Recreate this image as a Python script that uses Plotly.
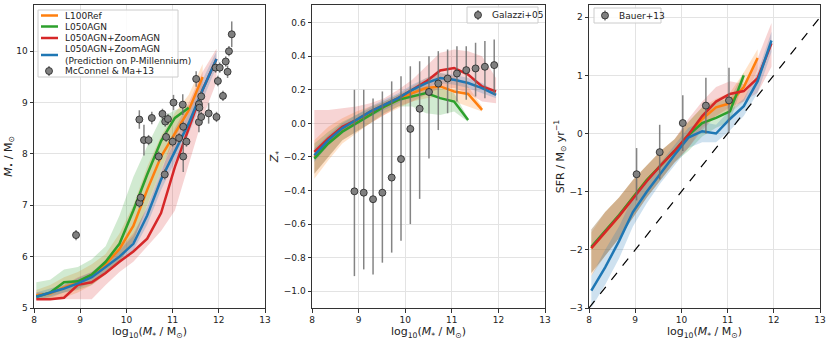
import plotly.graph_objects as go
from plotly.subplots import make_subplots

# bin centres (log10 stellar mass)
mass_bins = [8.05, 8.35, 8.65, 8.95, 9.25, 9.55, 9.85, 10.15, 10.45, 10.75, 11.05, 11.35, 11.65, 11.95]

# ---- panel 1: black hole mass
bh_ref = [5.25, 5.28, 5.4, 5.5, 5.65, 5.85, 6.15, 6.6, 7.3, 7.95, 8.4, 8.85, 9.5]
bh_ref_lo = [5.17, 5.17, 5.2, 5.3, 5.45, 5.65, 5.9, 6.3, 6.95, 7.55, 8.0, 8.5, 9.2]
bh_ref_hi = [5.35, 5.45, 5.6, 5.7, 5.85, 6.05, 6.45, 7.0, 7.75, 8.35, 8.8, 9.15, 9.75]
bh_agn = [5.22, 5.3, 5.5, 5.52, 5.65, 5.9, 6.25, 6.9, 7.6, 8.25, 8.7, 8.9]
bh_agn_lo = [5.17, 5.2, 5.3, 5.35, 5.45, 5.65, 5.9, 6.3, 7.0, 7.7, 8.3, 8.8]
bh_agn_hi = [5.5, 5.55, 5.75, 5.8, 5.95, 6.2, 6.8, 7.55, 8.15, 8.7, 8.85, 8.95]
bh_zoom = [5.17, 5.17, 5.2, 5.45, 5.5, 5.68, 5.9, 6.1, 6.35, 6.85, 7.75, 8.5, 9.25, 9.85]
bh_zoom_lo = [5.17, 5.17, 5.17, 5.17, 5.17, 5.45, 5.7, 5.9, 6.2, 6.5, 6.9, 7.8, 8.7, 9.4]
bh_zoom_hi = [5.3, 5.3, 5.45, 5.6, 5.7, 5.9, 6.15, 6.45, 6.95, 7.6, 8.5, 9.0, 9.6, 10.05]
bh_pm = [5.22, 5.3, 5.38, 5.48, 5.6, 5.8, 6.0, 6.25, 6.8, 7.5, 8.05, 8.6, 9.25, 9.85]
bh_pm_lo = [5.15, 5.22, 5.3, 5.38, 5.5, 5.68, 5.88, 6.12, 6.62, 7.3, 7.85, 8.4, 9.05, 9.7]
bh_pm_hi = [5.3, 5.38, 5.46, 5.58, 5.7, 5.92, 6.12, 6.4, 6.98, 7.7, 8.25, 8.8, 9.45, 10.0]

mcconnell_x = [8.91, 10.28, 10.28, 10.31, 10.38, 10.48, 10.55, 10.7, 10.78, 10.83, 10.84, 10.86, 10.9,
               11.0, 11.02, 11.14, 11.22, 11.23, 11.23, 11.3, 11.51, 11.57, 11.57, 11.58, 11.62, 11.62,
               11.78, 11.93, 11.95, 11.98, 12.02, 12.09, 12.15, 12.19, 12.22, 12.28]
mcconnell_y = [6.42, 8.67, 7.05, 7.15, 8.27, 8.27, 8.7, 7.95, 8.78, 7.6, 8.63, 8.33, 8.68,
               8.24, 9.0, 8.31, 8.96, 8.53, 7.95, 8.24, 9.46, 8.62, 8.97, 8.9, 9.12, 8.72,
               8.79, 9.68, 8.72, 9.42, 9.68, 9.13, 9.8, 9.6, 10.0, 10.33]
mcconnell_err = [0.1, 0.18, 0.1, 0.1, 0.3, 0.1, 0.12, 0.1, 0.1, 0.1, 0.1, 0.1, 0.1,
                 0.1, 0.15, 0.1, 0.2, 0.1, 0.3, 0.1, 0.15, 0.2, 0.1, 0.1, 0.1, 0.1,
                 0.2, 0.1, 0.1, 0.1, 0.1, 0.1, 0.1, 0.12, 0.1, 0.25]

# ---- panel 2: stellar metallicity
z_ref = [-0.2, -0.11, -0.04, 0.01, 0.06, 0.1, 0.14, 0.18, 0.21, 0.22, 0.19, 0.175, 0.08]
z_ref_lo = [-0.33, -0.22, -0.12, -0.06, 0.0, 0.05, 0.09, 0.13, 0.15, 0.16, 0.13, 0.1, 0.07]
z_ref_hi = [-0.1, -0.02, 0.03, 0.07, 0.1, 0.13, 0.17, 0.22, 0.27, 0.3, 0.28, 0.22, 0.1]
z_agn = [-0.21, -0.12, -0.05, 0.0, 0.05, 0.1, 0.14, 0.16, 0.18, 0.15, 0.13, 0.02]
z_agn_lo = [-0.3, -0.2, -0.1, -0.05, 0.0, 0.06, 0.1, 0.1, 0.06, 0.05, 0.07, 0.01]
z_agn_hi = [-0.12, -0.05, 0.01, 0.05, 0.09, 0.13, 0.17, 0.2, 0.22, 0.21, 0.18, 0.03]
z_zoom = [-0.17, -0.09, -0.02, 0.02, 0.07, 0.11, 0.15, 0.2, 0.25, 0.315, 0.33, 0.29, 0.22, 0.19]
z_zoom_lo = [-0.3, -0.2, -0.1, -0.05, 0.0, 0.05, 0.1, 0.13, 0.17, 0.21, 0.21, 0.18, 0.13, 0.12]
z_zoom_hi = [0.08, 0.08, 0.09, 0.1, 0.12, 0.15, 0.2, 0.26, 0.34, 0.42, 0.44, 0.43, 0.4, 0.27]
z_pm = [-0.19, -0.1, -0.03, 0.02, 0.07, 0.11, 0.15, 0.2, 0.24, 0.27, 0.26, 0.24, 0.21, 0.17]
z_pm_lo = [-0.23, -0.13, -0.06, -0.01, 0.04, 0.08, 0.12, 0.17, 0.21, 0.24, 0.23, 0.21, 0.18, 0.15]
z_pm_hi = [-0.15, -0.07, 0.0, 0.05, 0.1, 0.14, 0.18, 0.23, 0.27, 0.3, 0.29, 0.27, 0.24, 0.19]

gallazzi_x = [8.91, 9.11, 9.31, 9.51, 9.71, 9.91, 10.11, 10.31, 10.51, 10.71, 10.91, 11.11, 11.31, 11.51, 11.71, 11.91]
gallazzi_y = [-0.405, -0.413, -0.452, -0.413, -0.323, -0.213, -0.033, 0.087, 0.187, 0.237, 0.267, 0.297, 0.317, 0.327, 0.337, 0.347]
gallazzi_up = [0.2, 0.2, 0.148, 0.19, 0.25, 0.28, 0.34, 0.37, 0.4, 0.43, 0.44, 0.46, 0.46, 0.48, 0.49, 0.5]
gallazzi_down = [-0.91, -0.87, -0.9, -0.83, -0.77, -0.7, -0.6, -0.45, -0.21, -0.04, 0.06, 0.13, 0.14, 0.16, 0.15, 0.17]

# ---- panel 3: star formation rate
sfr_ref = [-1.97, -1.7, -1.42, -1.1, -0.8, -0.55, -0.3, -0.02, 0.25, 0.45, 0.52, 0.8, 1.3]
sfr_ref_lo = [-2.45, -2.1, -1.8, -1.45, -1.1, -0.8, -0.5, -0.25, 0.1, 0.3, 0.35, 0.55, 1.1]
sfr_ref_hi = [-1.7, -1.35, -1.1, -0.8, -0.55, -0.3, -0.1, 0.2, 0.45, 0.6, 0.7, 1.05, 1.45]
sfr_agn = [-1.95, -1.68, -1.4, -1.1, -0.8, -0.55, -0.3, -0.03, 0.18, 0.27, 0.38, 1.0]
sfr_agn_lo = [-2.4, -2.1, -1.8, -1.45, -1.1, -0.8, -0.5, -0.3, -0.05, 0.1, 0.2, 0.9]
sfr_agn_hi = [-1.65, -1.35, -1.1, -0.8, -0.55, -0.3, -0.1, 0.2, 0.45, 0.55, 0.6, 1.05]
sfr_zoom = [-1.97, -1.7, -1.42, -1.12, -0.82, -0.55, -0.3, -0.02, 0.3, 0.55, 0.68, 0.73, 0.95, 1.55]
sfr_zoom_lo = [-2.4, -2.1, -1.8, -1.45, -1.1, -0.8, -0.5, -0.25, 0.05, 0.3, 0.45, 0.55, 0.7, 1.15]
sfr_zoom_hi = [-1.65, -1.35, -1.1, -0.8, -0.55, -0.3, -0.1, 0.25, 0.55, 0.8, 0.9, 0.85, 1.3, 1.9]
sfr_pm = [-2.7, -2.3, -1.85, -1.35, -1.0, -0.68, -0.37, -0.07, 0.04, 0.0, 0.25, 0.47, 0.9, 1.6]
sfr_pm_lo = [-3.0, -2.6, -2.15, -1.6, -1.2, -0.85, -0.55, -0.25, -0.15, -0.15, 0.05, 0.3, 0.7, 1.4]
sfr_pm_hi = [-2.45, -2.0, -1.6, -1.1, -0.8, -0.5, -0.2, 0.1, 0.2, 0.15, 0.4, 0.6, 1.05, 1.75]

bauer_x = [9.03, 9.53, 10.03, 10.53, 11.03]
bauer_y = [-0.7, -0.32, 0.18, 0.48, 0.57]
bauer_err = [0.45, 0.47, 0.48, 0.48, 0.56]

one_to_one_x = [8, 13]
one_to_one_y = [-3, 2]

models = ["L100Ref", "L050AGN", "L050AGN+ZoomAGN", "L050AGN+ZoomAGN (Prediction on P-Millennium)"]
colors = ["#ff7f0e", "#2ca02c", "#d62728", "#1f77b4"]
fills = ["rgba(255,127,14,0.22)", "rgba(44,160,44,0.22)", "rgba(214,39,40,0.2)", "rgba(31,119,180,0.22)"]

panels = [
    [(bh_ref, bh_ref_lo, bh_ref_hi), (bh_agn, bh_agn_lo, bh_agn_hi),
     (bh_zoom, bh_zoom_lo, bh_zoom_hi), (bh_pm, bh_pm_lo, bh_pm_hi)],
    [(z_ref, z_ref_lo, z_ref_hi), (z_agn, z_agn_lo, z_agn_hi),
     (z_zoom, z_zoom_lo, z_zoom_hi), (z_pm, z_pm_lo, z_pm_hi)],
    [(sfr_ref, sfr_ref_lo, sfr_ref_hi), (sfr_agn, sfr_agn_lo, sfr_agn_hi),
     (sfr_zoom, sfr_zoom_lo, sfr_zoom_hi), (sfr_pm, sfr_pm_lo, sfr_pm_hi)],
]

W, H = 831, 342
ML, MR, MT, MB = 34, 11, 5, 34
PW, PH = W - ML - MR, H - MT - MB

fig = make_subplots(rows=1, cols=3)

for col, panel in enumerate(panels, start=1):
    # shaded bands first
    for i, (med, lo, hi) in enumerate(panel):
        xs = mass_bins[:len(med)]
        fig.add_trace(go.Scatter(x=xs + xs[::-1], y=hi + lo[::-1], fill="toself", fillcolor=fills[i],
                                 line=dict(width=0), hoverinfo="skip", showlegend=False), row=1, col=col)
    for i, (med, lo, hi) in enumerate(panel):
        xs = mass_bins[:len(med)]
        fig.add_trace(go.Scatter(x=xs, y=med, mode="lines", name=models[i],
                                 line=dict(color=colors[i], width=2.5), showlegend=False), row=1, col=col)

marker = dict(color="#808080", size=7, line=dict(color="#222222", width=0.8))
errc = "rgba(110,110,110,0.85)"

fig.add_trace(go.Scatter(x=mcconnell_x, y=mcconnell_y, mode="markers", name="McConnel & Ma+13",
                         marker=marker, showlegend=False,
                         error_y=dict(type="data", array=mcconnell_err, color=errc, thickness=1.5, width=0)),
              row=1, col=1)

g_plus = [u - y for u, y in zip(gallazzi_up, gallazzi_y)]
g_minus = [y - d for d, y in zip(gallazzi_down, gallazzi_y)]
fig.add_trace(go.Scatter(x=gallazzi_x, y=gallazzi_y, mode="markers", name="Galazzi+05",
                         marker=marker, showlegend=False,
                         error_y=dict(type="data", symmetric=False, array=g_plus, arrayminus=g_minus,
                                      color=errc, thickness=1.5, width=0)),
              row=1, col=2)

fig.add_trace(go.Scatter(x=one_to_one_x, y=one_to_one_y, mode="lines", showlegend=False,
                         line=dict(color="black", width=1.2, dash="dash")), row=1, col=3)
fig.add_trace(go.Scatter(x=bauer_x, y=bauer_y, mode="markers", name="Bauer+13",
                         marker=marker, showlegend=False,
                         error_y=dict(type="data", array=bauer_err, color=errc, thickness=1.5, width=0)),
              row=1, col=3)

font = "DejaVu Sans, Arial, sans-serif"
axis_common = dict(showline=True, linecolor="#333333", linewidth=1, mirror=True,
                   ticks="outside", ticklen=3.5, tickcolor="#333333", automargin=False,
                   showgrid=True, gridcolor="#e3e3e3", gridwidth=1, zeroline=False,
                   tickfont=dict(size=9, color="#222222"))
xtitle = "log<sub>10</sub>(<i>M</i><sub>*</sub> / M<sub>⊙</sub>)"


def px(x):
    return (x - ML) / PW


def py(y):
    return 1 - (y - MT) / PH


domains = [(px(34), px(265)), (px(312), px(545)), (px(589), px(820))]
for k, dom in enumerate(domains, start=1):
    fig.update_layout({f"xaxis{'' if k == 1 else k}": dict(domain=list(dom), range=[8, 13], dtick=1,
                                                            title=dict(text=xtitle, font=dict(size=11), standoff=2),
                                                            **axis_common)})

fig.update_yaxes(axis_common)
fig.update_layout(
    yaxis=dict(range=[5, 10.9], dtick=1,
               title=dict(text="<i>M</i><sub>•</sub> / M<sub>⊙</sub>", font=dict(size=11), standoff=1)),
    yaxis2=dict(range=[-1.1, 0.705], dtick=0.2, tickformat=".1f",
                title=dict(text="<i>Z</i><sub>*</sub>", font=dict(size=11), standoff=2)),
    yaxis3=dict(range=[-3, 2.21], dtick=1,
                title=dict(text="SFR / M<sub>⊙</sub> yr<sup>−1</sup>", font=dict(size=11), standoff=2)),
)

# compact matplotlib-style legends drawn in pixel positions
shapes, annos = [], []


def legend_box(x0, y0, x1, y1):
    shapes.append(dict(type="rect", xref="paper", yref="paper", x0=px(x0), x1=px(x1), y0=py(y1), y1=py(y0),
                       fillcolor="rgba(255,255,255,0.85)", line=dict(color="#cccccc", width=1), layer="above"))


def legend_line(x0, x1, y, color):
    shapes.append(dict(type="line", xref="paper", yref="paper", x0=px(x0), x1=px(x1), y0=py(y), y1=py(y),
                       line=dict(color=color, width=2.5), layer="above"))


def legend_marker(x, y):
    shapes.append(dict(type="line", xref="paper", yref="paper", x0=px(x), x1=px(x), y0=py(y + 5), y1=py(y - 5),
                       line=dict(color=errc, width=1.5), layer="above"))
    shapes.append(dict(type="circle", xref="paper", yref="paper", xsizemode="pixel", ysizemode="pixel",
                       xanchor=px(x), yanchor=py(y), x0=-3.5, x1=3.5, y0=-3.5, y1=3.5,
                       fillcolor="#808080", line=dict(color="#222222", width=0.8), layer="above"))


def legend_text(x, y, text):
    annos.append(dict(xref="paper", yref="paper", x=px(x), y=py(y), text=text, showarrow=False,
                      xanchor="left", yanchor="middle", align="left",
                      font=dict(size=9, color="#222222", family=font)))


legend_box(38, 10, 178, 77)
rows_y = [15.5, 26.5, 38, 55, 71]
for i in range(4):
    legend_line(41, 58, rows_y[i], colors[i])
legend_text(63, 15.5, models[0])
legend_text(63, 26.5, models[1])
legend_text(63, 38, models[2])
legend_text(63, 55, "L050AGN+ZoomAGN<br>(Prediction on P-Millennium)")
legend_marker(49, 71)
legend_text(63, 71, "McConnel & Ma+13")

legend_box(467, 7, 538, 23)
legend_marker(478, 15)
legend_text(490, 15, "Galazzi+05")

legend_box(594, 8, 661, 23)
legend_marker(605, 15.5)
legend_text(617, 15.5, "Bauer+13")

fig.update_layout(
    shapes=shapes, annotations=annos,
    showlegend=False,
    width=W, height=H,
    margin=dict(l=ML, r=MR, t=MT, b=MB),
    plot_bgcolor="white", paper_bgcolor="white",
    font=dict(family=font, color="#222222"),
)

# drop the browser's default body margin so the figure sits at the page corner
fig.write_html("out.html", config={"displayModeBar": False},
               post_script="document.body.style.margin='0px';")
